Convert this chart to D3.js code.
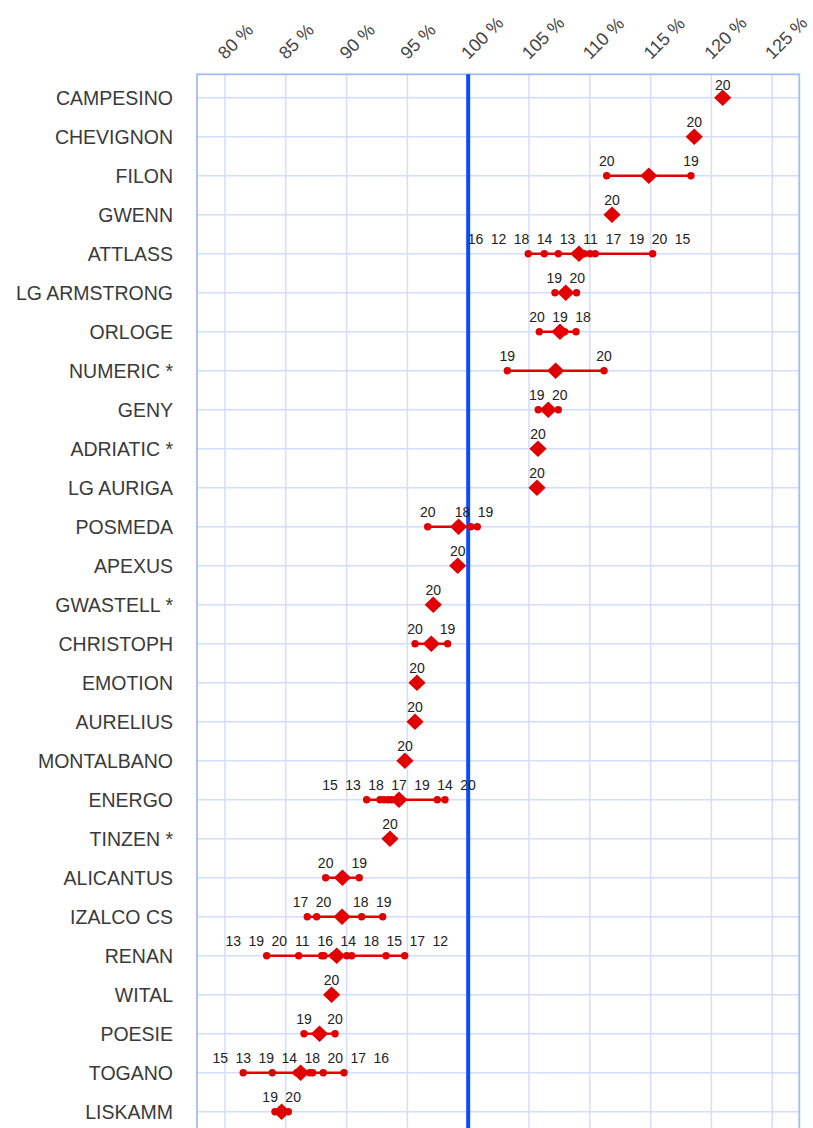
<!DOCTYPE html>
<html>
<head>
<meta charset="utf-8">
<script src="https://cdn.jsdelivr.net/npm/d3@7"></script>
<style>
  html, body { margin: 0; padding: 0; background: #ffffff; }
  svg { display: block; }
  text { font-family: "Liberation Sans", Arial, sans-serif; }
</style>
</head>
<body>
<svg id="chart" width="813" height="1128"></svg>
<script>
const categories = ["CAMPESINO","CHEVIGNON","FILON","GWENN","ATTLASS","LG ARMSTRONG","ORLOGE","NUMERIC *","GENY","ADRIATIC *","LG AURIGA","POSMEDA","APEXUS","GWASTELL *","CHRISTOPH","EMOTION","AURELIUS","MONTALBANO","ENERGO","TINZEN *","ALICANTUS","IZALCO CS","RENAN","WITAL","POESIE","TOGANO","LISKAMM"];

const trialYears = [
  [20],
  [20],
  [20,19],
  [20],
  [16,12,18,14,13,11,17,19,20,15],
  [19,20],
  [20,19,18],
  [19,20],
  [19,20],
  [20],
  [20],
  [20,18,19],
  [20],
  [20],
  [20,19],
  [20],
  [20],
  [20],
  [15,13,18,17,19,14,20],
  [20],
  [20,19],
  [17,20,18,19],
  [13,19,20,11,16,14,18,15,17,12],
  [20],
  [19,20],
  [15,13,19,14,18,20,17,16],
  [19,20]
];

const trialValues = [
  [120.93],
  [118.59],
  [111.39,118.32],
  [111.83],
  [104.94,106.26,107.41,108.85,109.10,109.35,109.55,110.02,110.45,115.17],
  [107.14,108.91],
  [105.85,107.93,108.87],
  [103.22,111.17],
  [105.76,107.41],
  [105.74],
  [105.66],
  [96.67,100.21,100.75],
  [99.14],
  [97.13],
  [95.63,98.31],
  [95.79],
  [95.63],
  [94.80],
  [91.65,92.75,93.08,93.43,93.71,97.46,98.09],
  [93.57],
  [88.28,91.04],
  [86.77,87.54,91.24,92.97],
  [83.43,86.06,87.95,88.14,88.90,88.97,90.01,90.42,93.24,94.78],
  [88.77],
  [86.50,89.05],
  [81.50,83.89,85.90,86.45,86.98,87.21,88.08,89.79],
  [84.11,85.21]
];

const tickValues = [80,85,90,95,100,105,110,115,120,125];
const referenceValue = 100;

// ---- layout ----
const plotLeft = 197, plotRight = 799.3, plotTop = 74.3, plotBottom = 1135;
const x = d3.scaleLinear().domain([77.7, 127.23]).range([plotLeft, plotRight]);
const y = d3.scalePoint().domain(categories).range([97.7, 1111.7]);

const svg = d3.select("#chart");

// grid
const grid = svg.append("g");
grid.selectAll("line.h").data(categories).join("line")
  .attr("x1", plotLeft).attr("x2", plotRight)
  .attr("y1", d => y(d)).attr("y2", d => y(d))
  .attr("stroke", "#d3defe").attr("stroke-width", 1.5);
grid.selectAll("line.v").data(tickValues).join("line")
  .attr("x1", d => x(d)).attr("x2", d => x(d))
  .attr("y1", plotTop).attr("y2", plotBottom)
  .attr("stroke", "#d3defe").attr("stroke-width", 1.5);
grid.append("rect")
  .attr("x", plotLeft).attr("y", plotTop)
  .attr("width", plotRight - plotLeft).attr("height", plotBottom - plotTop)
  .attr("fill", "none").attr("stroke", "#a2bcf7").attr("stroke-width", 1.8);

// top axis labels (rotated)
const xAxis = d3.axisTop(x).tickValues(tickValues).tickSize(0).tickFormat(d => d + " %");
const axisG = svg.append("g").attr("transform", `translate(0,${plotTop})`).call(xAxis);
axisG.select(".domain").remove();
axisG.selectAll(".tick text")
  .attr("font-size", 18)
  .attr("fill", "#444")
  .attr("text-anchor", "start")
  .attr("dy", 0)
  .attr("transform", "translate(2,-12) rotate(-45)");

// reference line
svg.append("line")
  .attr("x1", x(referenceValue)).attr("x2", x(referenceValue))
  .attr("y1", plotTop).attr("y2", plotBottom)
  .attr("stroke", "#0a4cff").attr("stroke-width", 4);

// category labels
svg.append("g").selectAll("text").data(categories).join("text")
  .attr("x", 173).attr("y", d => y(d) + 7)
  .attr("text-anchor", "end")
  .attr("font-size", 19.5)
  .attr("fill", "#3a3a3a")
  .text(d => d);

// rows
const red = "#e00000";
const rows = categories.map((c, i) => {
  const pts = trialValues[i].map((v, j) => ({ v, yr: trialYears[i][j] }))
    .sort((a, b) => a.v - b.v);
  return { c, pts, mean: d3.mean(trialValues[i]) };
});

const marks = svg.append("g");
rows.forEach(r => {
  const cy = y(r.c);
  const ext = d3.extent(r.pts, p => p.v);
  if (r.pts.length > 1) {
    marks.append("line")
      .attr("x1", x(ext[0])).attr("x2", x(ext[1]))
      .attr("y1", cy).attr("y2", cy)
      .attr("stroke", red).attr("stroke-width", 2.4);
  }
  marks.selectAll(null).data(r.pts).join("circle")
    .attr("cx", p => x(p.v)).attr("cy", cy).attr("r", 3.7)
    .attr("fill", red);
  const mx = x(r.mean);
  marks.append("path")
    .attr("d", `M${mx},${cy - 8.3}L${mx + 8.6},${cy}L${mx},${cy + 8.3}L${mx - 8.6},${cy}Z`)
    .attr("fill", red);
});

// labels with 1D de-overlap (clusters centred on mean of their points)
const spacing = 23;
function spread(xs) {
  let clusters = xs.map(v => ({ sum: v, n: 1 }));
  let changed = true;
  while (changed) {
    changed = false;
    for (let i = 0; i < clusters.length - 1; i++) {
      const a = clusters[i], b = clusters[i + 1];
      const aRight = a.sum / a.n + (a.n - 1) * spacing / 2;
      const bLeft = b.sum / b.n - (b.n - 1) * spacing / 2;
      if (bLeft - aRight < spacing) {
        clusters.splice(i, 2, { sum: a.sum + b.sum, n: a.n + b.n });
        changed = true;
        break;
      }
    }
  }
  const out = [];
  clusters.forEach(c => {
    const start = c.sum / c.n - (c.n - 1) * spacing / 2;
    for (let k = 0; k < c.n; k++) out.push(start + k * spacing);
  });
  return out;
}

const labels = svg.append("g");
rows.forEach(r => {
  const cy = y(r.c);
  const lx = spread(r.pts.map(p => x(p.v)));
  const base = Math.max(cy - 9.5, plotTop + 15.7);
  labels.selectAll(null).data(r.pts).join("text")
    .attr("x", (p, k) => lx[k]).attr("y", base)
    .attr("text-anchor", "middle")
    .attr("font-size", 14)
    .attr("fill", "#222")
    .text(p => p.yr);
});
</script>
</body>
</html>
